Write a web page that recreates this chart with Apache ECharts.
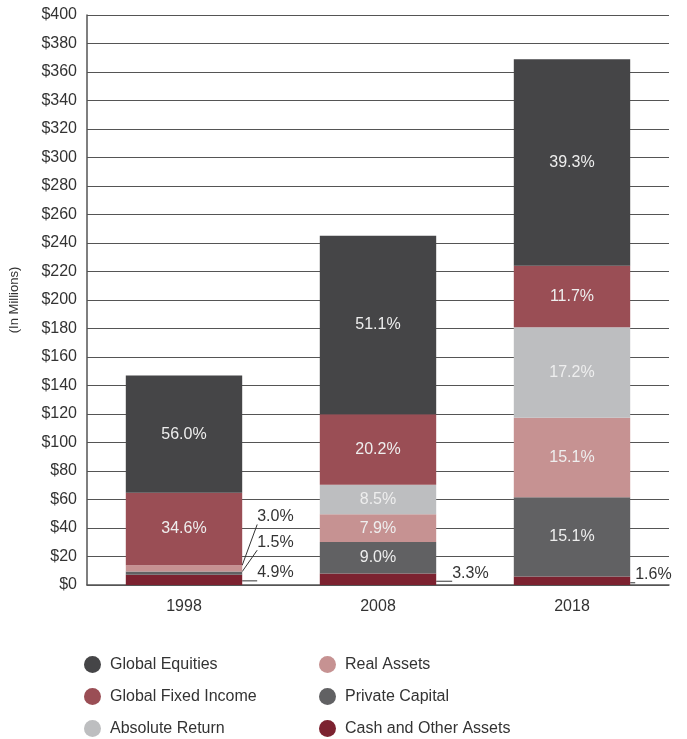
<!DOCTYPE html>
<html>
<head>
<meta charset="utf-8">
<script src="https://cdn.jsdelivr.net/npm/echarts@6/dist/echarts.min.js"></script>
<style>
    html, body { margin: 0; padding: 0; background: #fff; }
    #chart { width: 687px; height: 739px; }
</style>
</head>
<body>
<div id="chart"></div>
<script>
    // 年份
    var years = ['1998', '2008', '2018'];
    // 各类资产 (In Millions)
    var cash = [7.2, 8.1, 5.9];
    var privateCapital = [2.2, 22.1, 55.7];
    var realAssets = [4.4, 19.4, 55.7];
    var absoluteReturn = [0, 20.8, 63.5];
    var fixedIncome = [50.9, 49.5, 43.2];
    var equities = [82.3, 125.2, 145.0];
    // 百分比标签
    var cashPct = ['4.9%', '3.3%', '1.6%'];
    var privateCapitalPct = ['1.5%', '9.0%', '15.1%'];
    var realAssetsPct = ['3.0%', '7.9%', '15.1%'];
    var absoluteReturnPct = ['', '8.5%', '17.2%'];
    var fixedIncomePct = ['34.6%', '20.2%', '11.7%'];
    var equitiesPct = ['56.0%', '51.1%', '39.3%'];
    // y轴刻度
    var yTicks = [0, 20, 40, 60, 80, 100, 120, 140, 160, 180, 200, 220, 240, 260, 280, 300, 320, 340, 360, 380, 400];

    var font = '"Liberation Sans", Arial, sans-serif';
    var textColor = '#333';
    var lineColor = '#555';

    // 小块的标签放到柱子外面 [dx, dy]
    var outside = {
        'Cash and Other Assets': { 0: [15, -7], 1: [16, -6], 2: [5, -6] },
        'Private Capital': { 0: [15, -31] },
        'Real Assets': { 0: [15, -52] }
    };

    function makeSeries(name, values, pcts, color) {
        var data = values.map(function (v, i) {
            var item = { value: v };
            var o = outside[name] && outside[name][i];
            if (o) {
                item.label = {
                    show: true,
                    position: 'right',
                    distance: o[0],
                    offset: [0, o[1]],
                    color: textColor
                };
                item.labelLine = { show: true, lineStyle: { color: '#333', width: 1 } };
            }
            return item;
        });
        return {
            name: name,
            type: 'bar',
            stack: 'total',
            barCategoryGap: '40%',
            itemStyle: { color: color },
            label: {
                show: true,
                position: 'inside',
                color: '#eeeeee',
                fontSize: 16,
                fontFamily: font,
                formatter: function (p) { return pcts[p.dataIndex]; }
            },
            data: data
        };
    }

    var legendBase = {
        orient: 'vertical',
        top: 656,
        height: 90,
        padding: 0,
        icon: 'circle',
        itemWidth: 17,
        itemHeight: 17,
        itemGap: 15,
        textStyle: { fontSize: 16, color: textColor, fontFamily: font, padding: [0, 0, 0, 4] }
    };

    var chart = echarts.init(document.getElementById('chart'));
    var option = {
        animation: false,
        backgroundColor: '#fff',
        grid: { left: 87, right: 18, top: 15, bottom: 154 },
        legend: [
            Object.assign({}, legendBase, { left: 84, data: ['Global Equities', 'Global Fixed Income', 'Absolute Return'] }),
            Object.assign({}, legendBase, { left: 319, data: ['Real Assets', 'Private Capital', 'Cash and Other Assets'] })
        ],
        xAxis: {
            type: 'category',
            data: years,
            axisTick: { show: false },
            axisLine: { lineStyle: { color: lineColor, width: 1.5 } },
            axisLabel: { fontSize: 16, color: textColor, fontFamily: font, margin: 14 }
        },
        yAxis: {
            type: 'value',
            min: yTicks[0],
            max: yTicks[yTicks.length - 1],
            interval: 20,
            name: '(In Millions)',
            nameLocation: 'middle',
            nameGap: 66,
            nameTextStyle: { fontSize: 13, color: textColor, fontFamily: font },
            axisLine: { show: true, lineStyle: { color: lineColor, width: 1.5 } },
            axisTick: { show: false },
            splitLine: { lineStyle: { color: lineColor, width: 1 } },
            axisLabel: {
                fontSize: 16, color: textColor, fontFamily: font, margin: 10,
                formatter: function (v) { return '$' + v; }
            }
        },
        series: [
            makeSeries('Cash and Other Assets', cash, cashPct, '#7c2230'),
            makeSeries('Private Capital', privateCapital, privateCapitalPct, '#616163'),
            makeSeries('Real Assets', realAssets, realAssetsPct, '#c69292'),
            makeSeries('Absolute Return', absoluteReturn, absoluteReturnPct, '#bdbec0'),
            makeSeries('Global Fixed Income', fixedIncome, fixedIncomePct, '#9a4e55'),
            makeSeries('Global Equities', equities, equitiesPct, '#454547')
        ]
    };
    chart.setOption(option);
</script>
</body>
</html>
